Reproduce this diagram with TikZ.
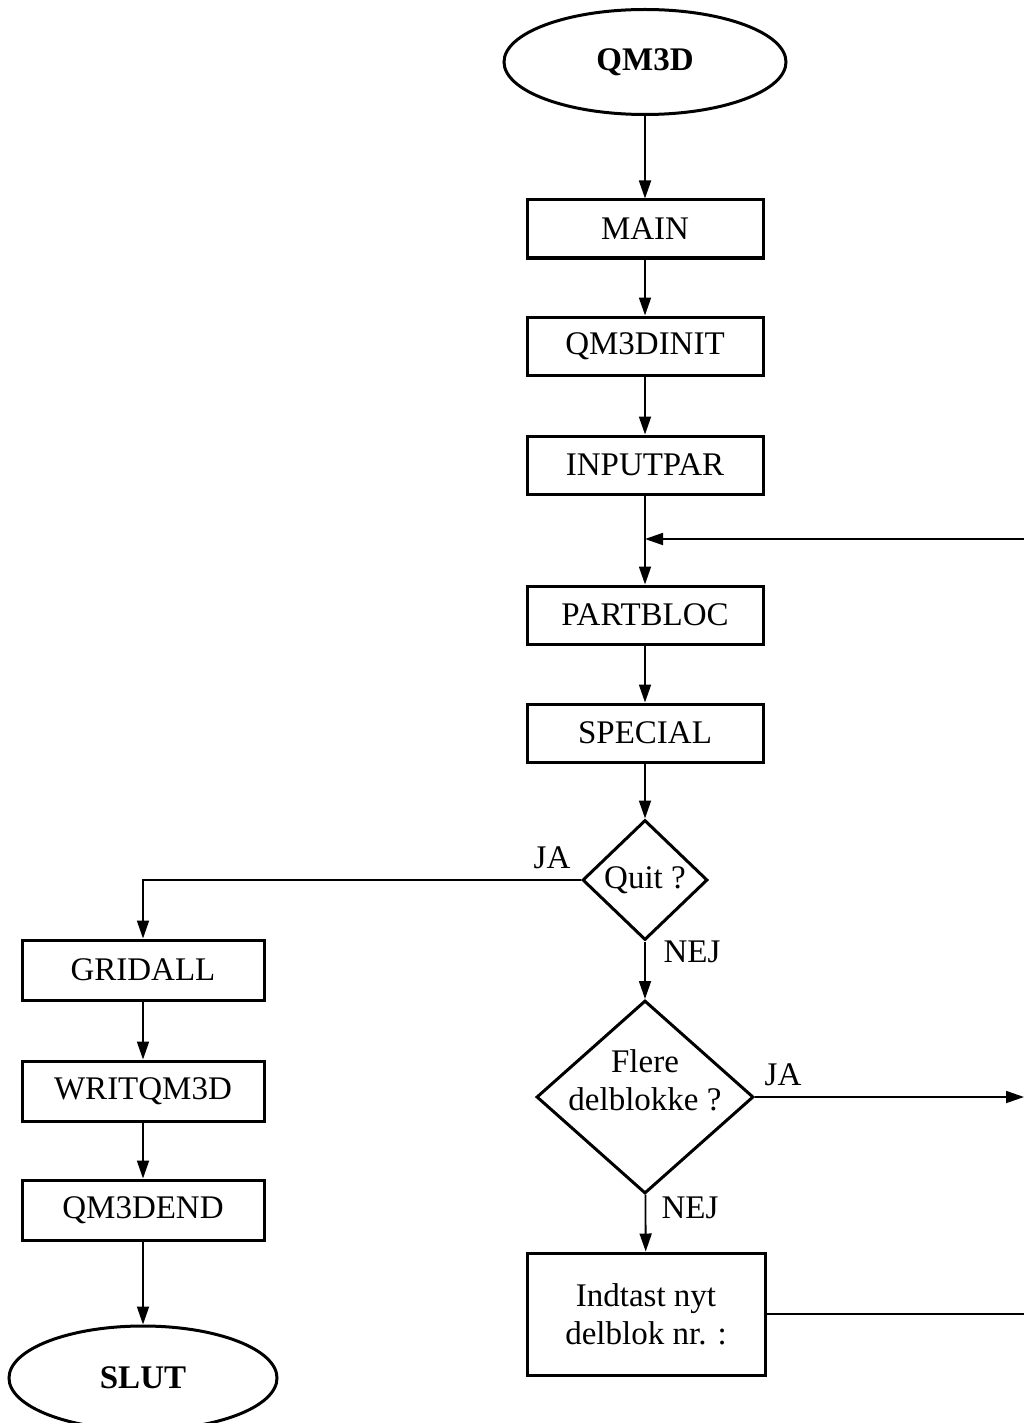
\documentclass[tikz,border=0pt]{standalone}
\usepackage{fontspec}
\setmainfont{Liberation Serif}
\usetikzlibrary{arrows.meta,shapes.geometric}

\begin{document}
\begin{tikzpicture}[x=0.5pt,y=-0.5pt,
  every node/.style={font=\fontsize{16.5}{19}\selectfont},
  box/.style={draw,line width=1.5pt,minimum width=118pt,minimum height=29pt,inner sep=0pt},
  lbox/.style={box,minimum width=121pt,minimum height=30pt},
  term/.style={draw,ellipse,line width=1.5pt,inner sep=0pt,font=\fontsize{16.5}{19}\selectfont\bfseries},
  test/.style={draw,diamond,line width=1.5pt,inner sep=0pt,align=center},
  flow/.style={line width=0.9pt,-{Triangle[length=9pt,width=6pt]}},
  lbl/.style={inner sep=1pt}]
\useasboundingbox (0,0) rectangle (1024,1423);
% main column
\node[term,minimum width=141pt,minimum height=52.5pt] (qm3d) at (645,62) {QM3D};
\node[box] (main) at (645,229) {MAIN};
\node[box] (init) at (645,346) {QM3DINIT};
\node[box] (inpar) at (645,465) {INPUTPAR};
\node[box] (partbloc) at (645,615) {PARTBLOC};
\node[box] (special) at (645,733) {SPECIAL};
\node[test,minimum width=62.5pt,minimum height=60pt] (quit) at (645,880) {Quit ?};
\node[test,inner sep=-16pt,minimum width=108.5pt,minimum height=96.5pt] (flere) at (645,1097) {Flere\\delblokke ?\\[-2pt]\mbox{}};
\node[box,minimum width=119pt,minimum height=61pt,align=center] (nyt) at (646,1314) {Indtast nyt\\delblok nr. :};
% exit column
\node[lbox] (gridall) at (143,970) {GRIDALL};
\node[lbox] (writ) at (143,1091) {WRITQM3D};
\node[lbox] (qend) at (143,1210) {QM3DEND};
\node[term,minimum width=134pt,minimum height=52pt] (slut) at (143,1378) {SLUT};
% answers
\node[lbl] (jaquit) at (552,858) {JA};
\node[lbl] (nejquit) at (692,952) {NEJ};
\node[lbl] (jaflere) at (783,1075) {JA};
\node[lbl] (nejflere) at (690,1208) {NEJ};
% connectors
\draw[flow] (qm3d) -- (main);
\draw[flow] (main) -- (init);
\draw[flow] (init) -- (inpar);
\draw[flow] (inpar) -- (partbloc);
\draw[flow] (partbloc) -- (special);
\draw[flow] (special) -- (quit);
\draw[flow] (quit) -- (flere);
\draw[flow] (flere) -- (nyt);
\draw[flow] (quit.west) -| (gridall.north);
\draw[flow] (gridall) -- (writ);
\draw[flow] (writ) -- (qend);
\draw[flow] (qend) -- (slut);
% loop back from the right edge
\coordinate (back) at (1024,539);
\coordinate (more) at (1024,1097);
\coordinate (ret) at (1024,1314);
\draw[flow] (back) -- (back -| inpar);
\draw[flow] (flere.east) -- (more);
\draw[line width=0.9pt] (nyt.east) -- (ret);
\end{tikzpicture}
\end{document}
